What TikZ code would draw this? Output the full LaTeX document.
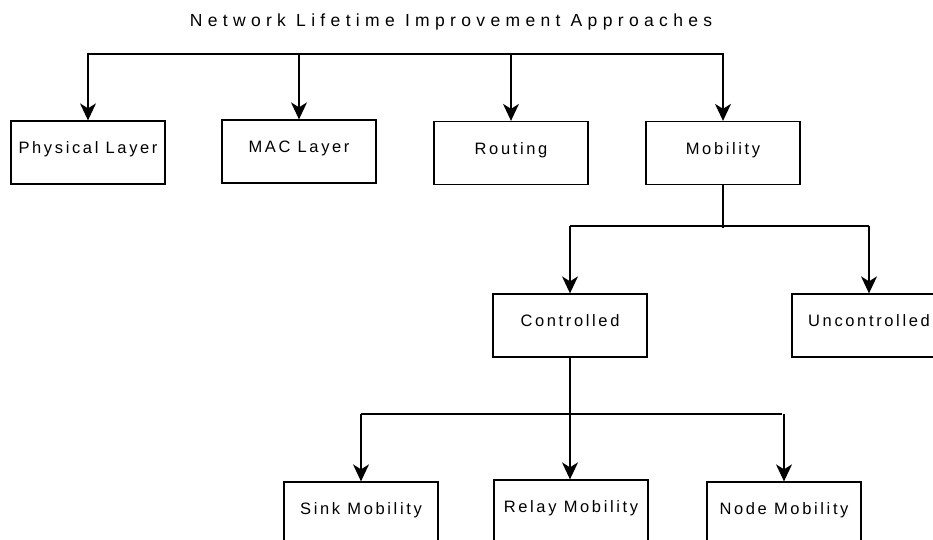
\documentclass[tikz,border=0pt]{standalone}
\usepackage{fontspec}
\setmainfont{Liberation Sans}
\newfontfamily\boxfont[LetterSpace=16]{Liberation Sans}
\newfontfamily\titlefont[LetterSpace=30.5]{Liberation Sans}
\usetikzlibrary{arrows.meta}
\begin{document}
\begin{tikzpicture}[x=1pt,y=-1pt,
  box/.style={draw, line width=1.3pt, minimum width=154pt, minimum height=63pt,
    inner sep=0pt, text height=12pt, text depth=9.2pt,
    font=\boxfont\fontsize{16.5}{19}\selectfont},
  conn/.style={line width=1.3pt},
  arr/.style={conn, -{Stealth[length=17pt,width=16pt,inset=5pt]}},
  titlestyle/.style={anchor=base, inner sep=0pt, font=\titlefont\fontsize{17.5}{20}\selectfont}]
\useasboundingbox (0,0) rectangle (933,539);
\clip (0,0) rectangle (933,539);

\node[titlestyle] (title) at (451,26.5) {Network Lifetime Improvement Approaches};

\node[box] (phys)  at (88,152.5)  {Physical Layer};
\node[box] (mac)   at (299,151.5) {MAC Layer};
\node[box] (rout)  at (511,153)   {Routing};
\node[box] (mob)   at (723,153)   {Mobility};
\node[box] (ctrl)  at (570,325.5) {Controlled};
\node[box] (unc)   at (869,325.5) {Uncontrolled};
\node[box] (sink)  at (361,513.5) {Sink Mobility};
\node[box] (relay) at (571,511.5) {Relay Mobility};
\node[box] (nodem) at (784,513.5) {Node Mobility};

\coordinate (bus1) at (0,54);
\coordinate (bus2) at (0,226);
\coordinate (bus3) at (0,414);

% level 1
\draw[conn] (phys.north |- bus1) -- (mob.north |- bus1);
\foreach \n in {phys,mac,rout,mob}
  \draw[arr] ([yshift=1.5pt]\n.north |- bus1) -- (\n.north);

% level 2
\draw[conn] (mob.south) -- ([yshift=-2pt]mob.south |- bus2);
\draw[conn] (ctrl.north |- bus2) -- (unc.north |- bus2);
\foreach \n in {ctrl,unc}
  \draw[arr] (\n.north |- bus2) -- (\n.north);

% level 3
\draw[conn] (sink.north |- bus3) -- ([xshift=-2pt]nodem.north |- bus3);
\draw[arr] (ctrl.south) -- (ctrl.south |- relay.north);
\foreach \n in {sink,nodem}
  \draw[arr] (\n.north |- bus3) -- (\n.north);
\end{tikzpicture}
\end{document}
